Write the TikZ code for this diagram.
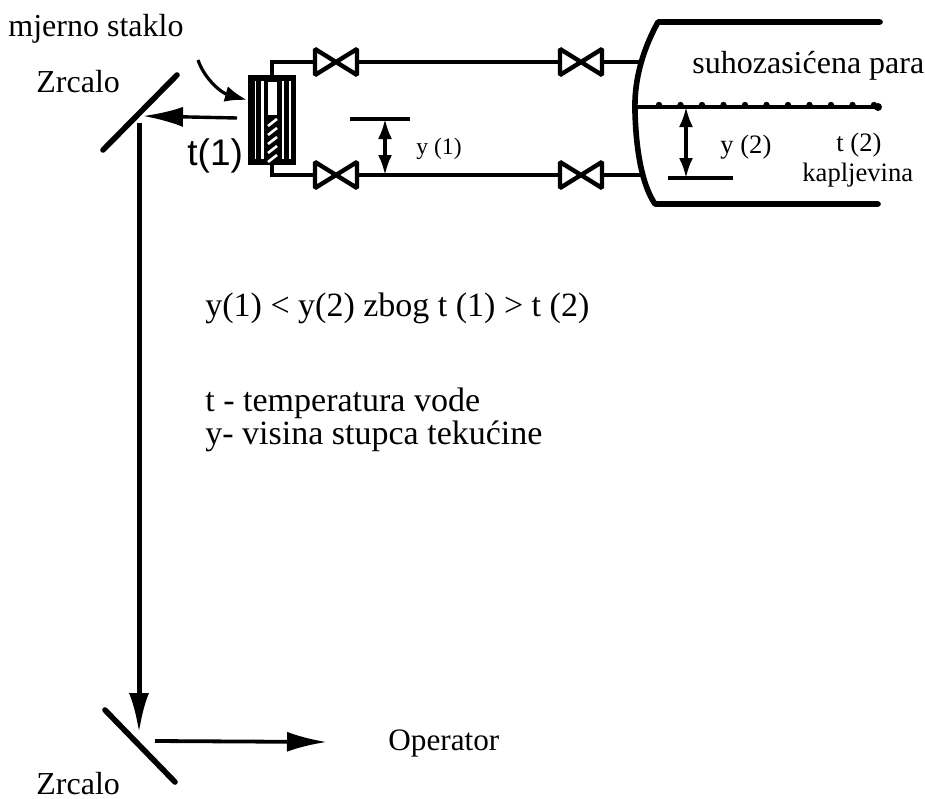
\documentclass[tikz,border=0pt]{standalone}
\usepackage{fontspec}
\setmainfont{Liberation Serif}
\setsansfont{Liberation Sans}
\usetikzlibrary{arrows.meta}
\tikzset{pics/valve/.style={
code={
\draw[line width=2.2pt,miter limit=2] (-21,-13) -- (21,13) -- (21,-13) -- (-21,13) -- cycle;
\coordinate (-left) at (-21,0);
\coordinate (-right) at (21,0);
}
}}
\tikzset{lbl/.style={inner sep=0pt,anchor=base west,font=\fontsize{16}{16}\selectfont},
mid lbl/.style={inner sep=0pt,anchor=base west,font=\fontsize{17}{17}\selectfont},
small lbl/.style={inner sep=0pt,anchor=base west,font=\fontsize{13.3}{13.3}\selectfont},
pipe/.style={line width=2pt},
thick wall/.style={line width=2.8pt,line cap=round},
big arrow/.style={-{Latex[length=20pt,width=10pt]}},
small tip/.style={{Latex[length=10pt,width=7pt]}-{Latex[length=10pt,width=7pt]}}}

\begin{document}
\begin{tikzpicture}[x=0.5pt,y=-0.5pt]
    \useasboundingbox (0,0) rectangle (925,798);
    % mirrors
    \coordinate (m1a) at (177,75);
    \coordinate (m1b) at (103,150);
    \coordinate (m2a) at (105,710);
    \coordinate (m2b) at (175,782);
    \draw[thick wall] (m1a) -- (m1b);
    \draw[thick wall] (m2a) -- (m2b);
    % sight glass
    \node[draw,fill=black,line width=1pt,inner sep=0pt,minimum width=23pt,minimum height=44pt] (gauge) at (272,120) {};
    \fill[white] (268,82) rectangle (277,115);
    \foreach \X/\W in {255.5/0.6pt,262.5/1.2pt,283/1pt,290/0.8pt}
        {\draw[white,line width=\W] (\X,81) -- (\X,159);}
    \foreach \Y in {126,135,144,153,162}
        {\draw[white,line width=1.3pt] (268,\Y) -- (277,\Y-7);}
    % valves
    \draw pic (v1) at (336,62) {valve};
    \draw pic (v2) at (336,175) {valve};
    \draw pic (v3) at (581,62) {valve};
    \draw pic (v4) at (581,175) {valve};
    % vessel
    \coordinate (topl) at (658,22);
    \coordinate (topr) at (880,22);
    \coordinate (botl) at (655,204);
    \coordinate (botr) at (878,204);
    \coordinate (wallup) at (640,62);
    \coordinate (walldn) at (642,175);
    \coordinate (surfl) at (636,107);
    \coordinate (surfr) at (878,107);
    \draw[thick wall,line join=round] (topr) -- (topl) .. controls (640,55) and (634,85) .. (635,112) .. controls (636,150) and (642,185) .. (botl) -- (botr);
    % pipes
    \draw[pipe] (gauge.north) |- (v1-left);
    \draw[pipe] (gauge.south) |- (v2-left);
    \draw[pipe] (v1-right) -- (v3-left);
    \draw[pipe] (v2-right) -- (v4-left);
    \draw[pipe] (v3-right) -- (wallup);
    \draw[pipe] (v4-right) -- (walldn);
    % liquid surface
    \draw[pipe] (surfl) -- (surfr);
    \foreach \X in {0,...,10}
        {\fill (659+21.5*\X,105) circle (3.2);}
    \fill (surfr) circle (4);
    % levels
    \coordinate (l1a) at (350,119);
    \coordinate (l1b) at (410,119);
    \coordinate (l2a) at (668,178);
    \coordinate (l2b) at (733,178);
    \coordinate (y1dn) at (385,175);
    \coordinate (y1up) at (385,119);
    \coordinate (y2up) at (686,107);
    \coordinate (y2dn) at (686,178);
    \draw[pipe] (l1a) -- (l1b);
    \draw[pipe] (l2a) -- (l2b);
    \draw[small tip,line width=1.6pt] (y1up) -- (y1dn);
    \draw[small tip,line width=1.6pt] (y2up) -- (y2dn);
    % light path
    \coordinate (r1) at (237,118);
    \coordinate (r2) at (143,116);
    \coordinate (r3) at (139,123);
    \coordinate (r4) at (139,733);
    \coordinate (r5) at (155,741);
    \coordinate (r6) at (327,742);
    \draw[big arrow,line width=1.7pt] (r1) -- (r2);
    \draw[big arrow,line width=2.5pt] (r3) -- (r4);
    \draw[big arrow,line width=1.9pt] (r5) -- (r6);
    % pointer to the glass
    \coordinate (c1) at (198,60);
    \coordinate (c2) at (247,100);
    \draw[line width=1.6pt,-{Latex[length=11pt,width=8pt]}] (c1) .. controls (205,80) and (222,93) .. (c2);
    % labels
    \node[lbl] (glass) at (8,36) {mjerno staklo};
    \node[lbl] (zr1) at (36,92) {Zrcalo};
    \node[lbl] (zr2) at (36,794) {Zrcalo};
    \node[inner sep=0pt,anchor=base west,font=\fontsize{15.6}{15.6}\selectfont] (oper) at (388,750) {Operator};
    \node[lbl] (steam) at (692,73) {suhozasićena para};
    \node[mid lbl] (cmp) at (205,316) {y(1) < y(2) zbog t (1) > t (2)};
    \node[mid lbl] (tleg) at (205,411) {t - temperatura vode};
    \node[mid lbl] (yleg) at (205,444) {y- visina stupca tekućine};
    \node[inner sep=0pt,anchor=base west,font=\sffamily\fontsize{18.5}{18.5}\selectfont] (t1) at (187,165) {t(1)};
    \node[inner sep=0pt,anchor=base west,font=\fontsize{11.8}{11.8}\selectfont] (y1) at (416,154) {y (1)};
    \node[small lbl] (y2) at (720,153) {y (2)};
    \node[small lbl] (t2) at (836,151) {t (2)};
    \node[small lbl] (liq) at (802,181) {kapljevina};
\end{tikzpicture}
\end{document}
